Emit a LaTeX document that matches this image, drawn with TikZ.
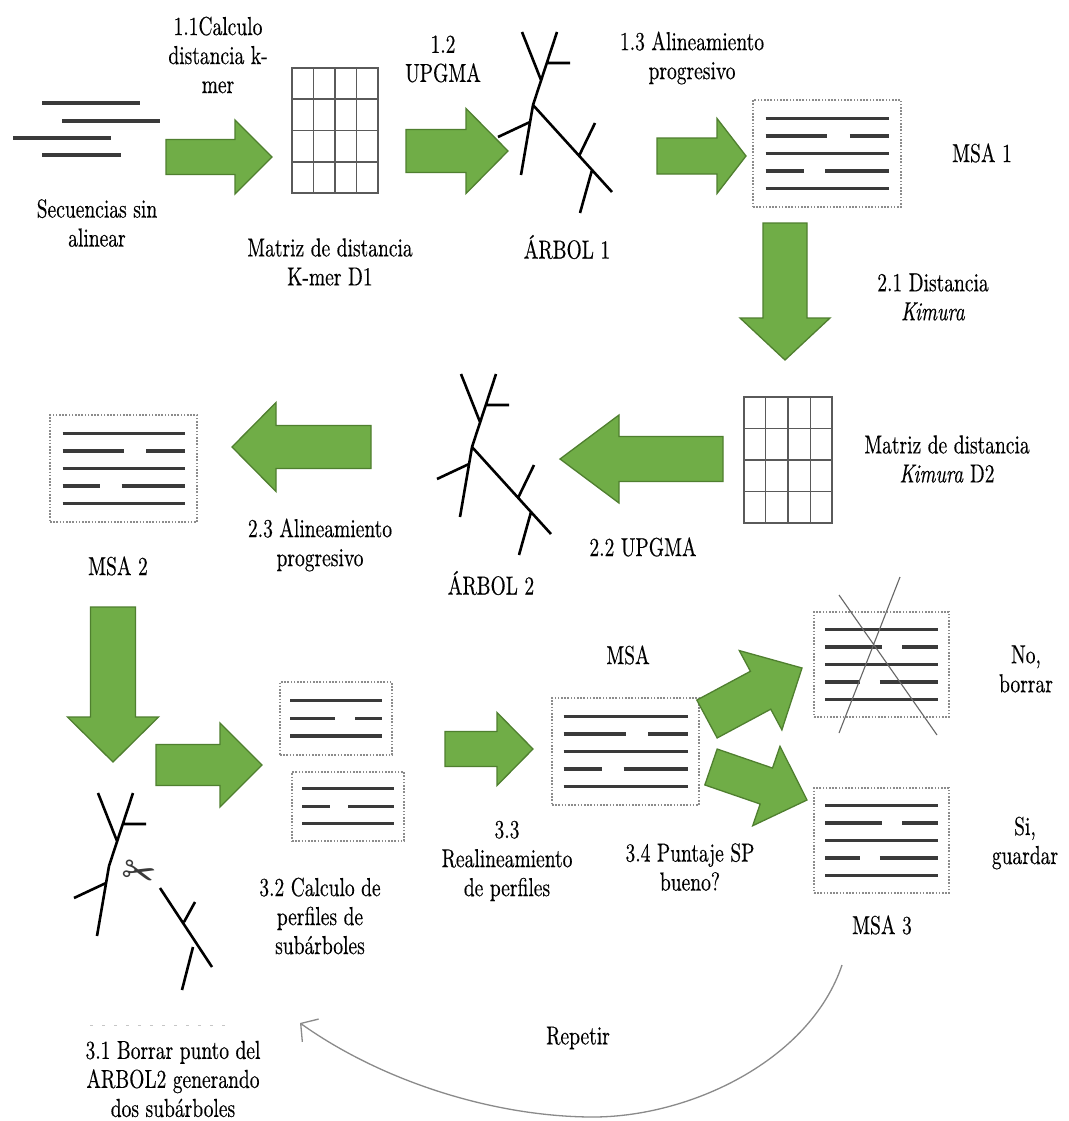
\documentclass[tikz,border=0pt]{standalone}
\usepackage{fontspec}
\setmainfont{lmroman10-regular.otf}[ItalicFont=lmroman10-italic.otf, FakeBold=0.4]
\newfontfamily\symfont{DejaVu Sans}
\usetikzlibrary{calc,arrows.meta}

\definecolor{arrowgreen}{HTML}{70AD47}
\definecolor{arrowline}{HTML}{4F7F2F}
\definecolor{seqgray}{HTML}{3A3A3A}
\definecolor{framegray}{HTML}{8C8C8C}
\definecolor{gridgray}{HTML}{5A5A5A}
\definecolor{loopgray}{HTML}{8A8A8A}

\tikzset{
  fshaft/.store in=\fsh, fhead/.store in=\fhd, fhlen/.store in=\fhl,
  fshaft=18, fhead=37, fhlen=38,
  % broad block arrow drawn between two named points
  fat/.style={draw=arrowline, fill=arrowgreen, line width=1.3pt, line join=miter,
    to path={
      ($(\tikztostart)!\fsh pt!90:(\tikztotarget)$)
      -- ($(\tikztotarget)!\fhl pt!(\tikztostart)!\fsh pt!90:(\tikztotarget)$)
      -- ($(\tikztotarget)!\fhl pt!(\tikztostart)!\fhd pt!90:(\tikztotarget)$)
      -- (\tikztotarget)
      -- ($(\tikztotarget)!\fhl pt!(\tikztostart)!\fhd pt!-90:(\tikztotarget)$)
      -- ($(\tikztotarget)!\fhl pt!(\tikztostart)!\fsh pt!-90:(\tikztotarget)$)
      -- ($(\tikztostart)!\fsh pt!-90:(\tikztotarget)$) -- cycle}},
  lbl/.style={align=center, inner sep=0pt, xscale=0.75, font=\fontsize{26}{29}\selectfont},
  seqline/.style={draw=seqgray, line width=3.2pt},
  msaframe/.style={draw=framegray, line width=1.3pt, dash pattern=on 1.6pt off 1.6pt, inner sep=0pt},
  gridline/.style={draw=gridgray, line width=1.3pt},
  treeline/.style={draw=black, line width=2.6pt},
  repline/.style={draw=loopgray, line width=1.3pt},
  treepic/.pic={
    \draw[treeline] (0,0)--(24,-73) (14,-42)--(37,-42) (-11,-73)--(8,-25)
      (0,0)--(-12,70) (-3,17)--(-35,32)
      (0,0)--(79,87) (46,51)--(62,18) (59,65)--(47,108);
  }
}

% five aligned rows of a multiple alignment, centred on the scope origin
\newcommand\msalines[1]{%
  \draw[seqline] (-#1,-35) -- (#1,-35);
  \draw[seqline] (-#1,-17.5) -- (0,-17.5) (0.37*#1,-17.5) -- (#1,-17.5);
  \draw[seqline] (-#1,0) -- (#1,0);
  \draw[seqline] (-#1,17.5) -- (-0.38*#1,17.5) (-0.03*#1,17.5) -- (#1,17.5);
  \draw[seqline] (-#1,35) -- (#1,35);
}
% 4x4 distance matrix inside a named frame node
\newcommand\distgrid[1]{%
  \foreach \i in {1,2,3} {
    \draw[gridline] ($(#1.north west)!\i/4!(#1.north east)$) -- ($(#1.south west)!\i/4!(#1.south east)$);
    \draw[gridline] ($(#1.north west)!\i/4!(#1.south west)$) -- ($(#1.north east)!\i/4!(#1.south east)$);
  }
}

\begin{document}
\begin{tikzpicture}[x=1pt,y=-1pt]
\useasboundingbox[fill=white] (0,0) rectangle (1068,1121);

% ---------- step 1 ----------
\draw[seqline] (42,103)--(140,103) (62,121)--(160,121) (13,138)--(111,138) (42,155)--(121,155);
\node[lbl] (tseq) at (97,223) {Secuencias sin\\alinear};
\node[lbl] (t11) at (218,55) {1.1Calculo\\distancia k-\\mer};

\node[gridline, minimum width=86pt, minimum height=125pt, inner sep=0pt] (m1) at (335,130.5) {};
\distgrid{m1}
\node[lbl] (tm1) at (330,262) {Matriz de distancia\\K-mer D1};

\node[lbl] (t12) at (443,59) {1.2\\UPGMA};
\pic (tree1) at (533,105) {treepic};
\node[lbl] (ta1) at (567,247) {ÁRBOL 1};

\node[lbl] (t13) at (692,58) {1.3 Alineamiento\\progresivo};
\node[msaframe, minimum width=148pt, minimum height=107pt] (msa1) at (827,153.5) {};
\begin{scope}[shift={(msa1.center)}] \msalines{61.5} \end{scope}
\node[lbl] (tmsa1) at (982,153) {MSA 1};

% ---------- step 2 ----------
\node[lbl] (t21) at (933,297) {2.1 Distancia\\\textit{Kimura}};
\node[gridline, minimum width=88pt, minimum height=126pt, inner sep=0pt] (m2) at (788,460) {};
\distgrid{m2}
\node[lbl] (tm2) at (947,459) {Matriz de distancia\\\textit{Kimura} D2};

\node[lbl] (t22) at (643,547) {2.2 UPGMA};
\pic (tree2) at (472,447) {treepic};
\node[lbl] (ta2) at (491,583) {ÁRBOL 2};

\node[lbl] (t23) at (320,545) {2.3 Alineamiento\\progresivo};
\node[msaframe, minimum width=147pt, minimum height=107pt] (msa2) at (123.5,468.5) {};
\begin{scope}[shift={(msa2.center)}] \msalines{61} \end{scope}
\node[lbl] (tmsa2) at (118,566) {MSA 2};

% ---------- step 3 ----------
% tree cut into two subtrees
\coordinate (cutroot) at (109,866);
\draw[treeline] (cutroot)--(133,793) (123,824)--(146,824) (98,793)--(117,841)
  (cutroot)--(97,936) (106,883)--(74,898);
\draw[treeline] (160,888)--(212,967) (184,922)--(195,902) (193,947)--(182,990);
\node[font=\symfont\fontsize{40}{40}\selectfont, text=seqgray, rotate=-15, inner sep=0pt] (scis) at (139,874) {✂};
\draw[gray!45, line width=1pt, dash pattern=on 3pt off 9pt] (90,1025) -- (232,1025);
\node[lbl] (t31) at (173,1079) {3.1 Borrar punto del\\ARBOL2 generando\\dos subárboles};

% two sub-tree profiles
\node[msaframe, minimum width=112pt, minimum height=73pt] (pa) at (336,718.5) {};
\begin{scope}[shift={(pa.center)}]
  \draw[seqline] (-46,-18) -- (46,-18);
  \draw[seqline] (-46,0) -- (-1,0) (19,0) -- (46,0);
  \draw[seqline] (-46,17.5) -- (46,17.5);
\end{scope}
\node[msaframe, minimum width=112pt, minimum height=69pt] (pb) at (348,806.5) {};
\begin{scope}[shift={(pb.center)}]
  \draw[seqline] (-46,-18) -- (46,-18);
  \draw[seqline] (-46,0) -- (-18,0) (0,0) -- (46,0);
  \draw[seqline] (-46,17) -- (46,17);
\end{scope}
\node[lbl] (t32) at (320,916) {3.2 Calculo de\\perfiles de\\subárboles};

% realigned profiles
\node[lbl] (tmsa) at (628,655) {MSA};
\node[msaframe, minimum width=147pt, minimum height=107pt] (msa) at (625.5,751.5) {};
\begin{scope}[shift={(msa.center)}] \msalines{62} \end{scope}
\node[lbl] (t33) at (507,861) {3.3\\Realineamiento\\de perfiles};
\node[lbl] (t34) at (690,867) {3.4 Puntaje SP\\bueno?};

% rejected alignment
\node[msaframe, minimum width=135pt, minimum height=105pt] (msax) at (881.5,664.5) {};
\begin{scope}[shift={(msax.center)}] \msalines{56.5} \end{scope}
\draw[draw=gray!80!black, line width=1.1pt] (839,595)--(937,735) (900,577)--(839,733);
\node[lbl] (tno) at (1026,669) {No,\\borrar};

% kept alignment
\node[msaframe, minimum width=135pt, minimum height=105pt] (msa3) at (881.5,840.5) {};
\begin{scope}[shift={(msa3.center)}] \msalines{56.5} \end{scope}
\node[lbl] (tsi) at (1025,843) {Si,\\guardar};
\node[lbl] (tmsa3) at (882,925) {MSA 3};

% loop back
\coordinate (rs) at (842,965);
\coordinate (re) at (300,1023);
\draw[repline, -{Straight Barb[length=12pt,width=28pt,line width=1.3pt]}]
  (rs) .. controls (810,1060) and (690,1118) .. (590,1117)
       .. controls (490,1116) and (380,1080) .. (re);
\node[lbl] (trep) at (578,1038) {Repetir};

% ---------- block arrows ----------
\coordinate (a1s) at (166,157);  \coordinate (a1e) at (272,157);
\coordinate (a2s) at (406,151);  \coordinate (a2e) at (508,151);
\coordinate (a3s) at (657,156);  \coordinate (a3e) at (746,156);
\coordinate (a4s) at (785,223);  \coordinate (a4e) at (785,360);
\coordinate (a5s) at (723,459);  \coordinate (a5e) at (560,459);
\coordinate (a6s) at (371,447);  \coordinate (a6e) at (232,447);
\coordinate (a7s) at (113,607);  \coordinate (a7e) at (113,762);
\coordinate (a8s) at (156,765);  \coordinate (a8e) at (262,765);
\coordinate (a9s) at (445,749);  \coordinate (a9e) at (533,749);
\coordinate (a10s) at (707,719); \coordinate (a10e) at (802,668);
\coordinate (a11s) at (711,767); \coordinate (a11e) at (807,800);

\draw[fat, fshaft=17.5, fhead=37,   fhlen=37] (a1s) to (a1e);
\draw[fat, fshaft=21.5, fhead=42.5, fhlen=42] (a2s) to (a2e);
\draw[fat, fshaft=18,   fhead=37.5, fhlen=29] (a3s) to (a3e);
\draw[fat, fshaft=22,   fhead=45,   fhlen=42] (a4s) to (a4e);
\draw[fat, fshaft=22.5, fhead=44,   fhlen=59] (a5s) to (a5e);
\draw[fat, fshaft=21.5, fhead=44.5, fhlen=44] (a6s) to (a6e);
\draw[fat, fshaft=22.5, fhead=45.5, fhlen=45] (a7s) to (a7e);
\draw[fat, fshaft=20.5, fhead=42,   fhlen=42] (a8s) to (a8e);
\draw[fat, fshaft=17.5, fhead=36.5, fhlen=36] (a9s) to (a9e);
\draw[fat, fshaft=21.5, fhead=45,   fhlen=47] (a10s) to (a10e);
\draw[fat, fshaft=19,   fhead=42,   fhlen=43] (a11s) to (a11e);
\end{tikzpicture}
\end{document}
